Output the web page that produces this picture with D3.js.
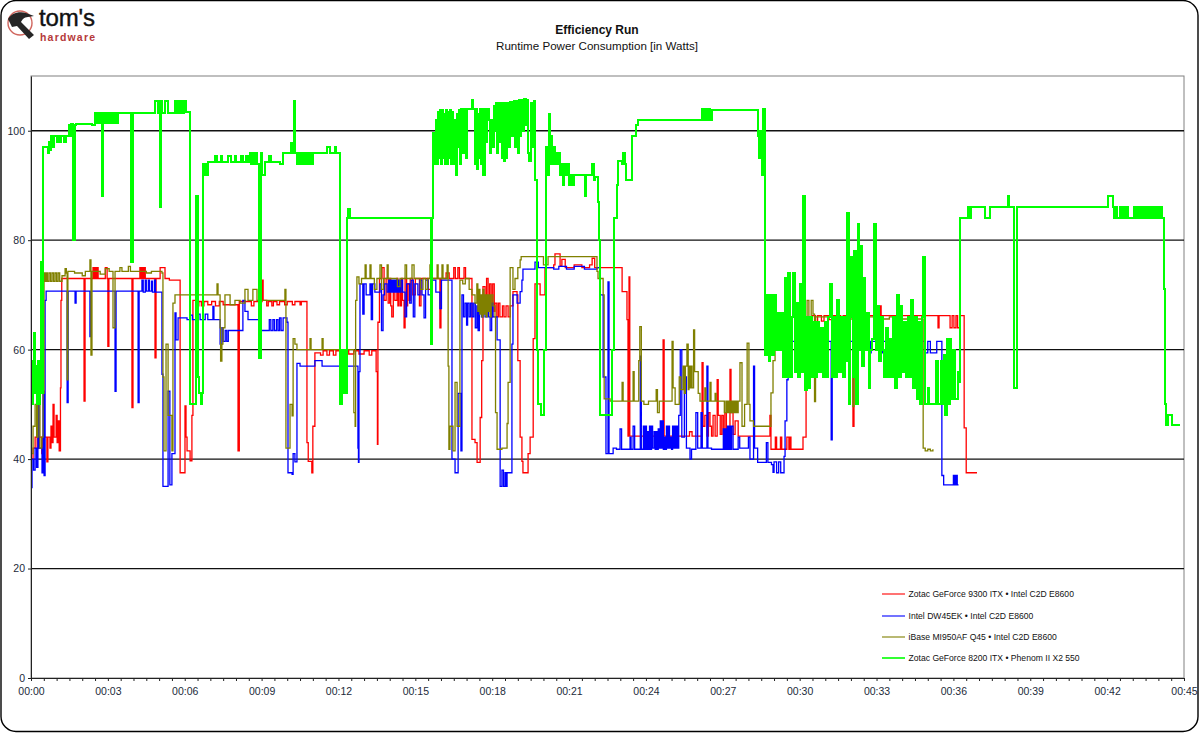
<!DOCTYPE html>
<html>
<head>
<meta charset="utf-8">
<script src="https://cdn.jsdelivr.net/npm/d3@7"></script>
<style>
  html, body { margin: 0; padding: 0; background: #fff; }
  svg { display: block; font-family: "Liberation Sans", Arial, sans-serif; }
  .axis text { font-size: 10.5px; fill: #1c2a3a; }
  .axis path, .axis line { stroke: #222; }
</style>
</head>
<body>
<div id="plot"></div>
<script>
// Chart text
const chartTitle = "Efficiency Run";
const chartSubtitle = "Runtime Power Consumption [in Watts]";
const seriesNames = [
  "Zotac GeForce 9300 ITX • Intel C2D E8600",
  "Intel DW45EK • Intel C2D E8600",
  "iBase MI950AF Q45 • Intel C2D E8600",
  "Zotac GeForce 8200 ITX • Phenom II X2 550"
];
const seriesColors = ["#ff0000", "#0000ff", "#808000", "#00ff00"];

// Ticks
const yTicks = [0, 20, 40, 60, 80, 100];
const xLabelMinutes = [0, 3, 6, 9, 12, 15, 18, 21, 24, 27, 30, 33, 36, 39, 42, 45];
const xTickMinutes = d3.range(0, 45.5, 0.5);

// Readings: [minutes, watts]
const zotac9300 = [
  [0,40],[0.08,42],[0.16,44],[0.24,42],[0.32,44],[0.42,41],[0.47,44],[0.62,39.5],[0.66,44],[0.74,42],[0.78,46],[0.82,43],[0.86,50],[0.9,44],[0.98,48],[1.02,43],[1.06,47],[1.1,41.5],[1.15,53],[1.17,69],[1.2,73],[2.07,50.6],[2.11,73],[2.42,75],[2.46,73],[2.5,75],[2.54,73],[2.58,75],[2.62,73],[2.9,75],[2.97,73],[3.0,60.6],[3.04,73],[3.94,49.4],[3.98,73],[4.25,75],[4.3,73],[4.34,75],[4.38,73],[4.42,75],[4.46,73],[4.84,58.5],[4.88,73],[5.04,75],[5.23,73],[5.4,72.7],[5.82,37.5],[6.01,49.7],[6.05,44],[6.09,41.5],[6.21,39.7],[6.28,48],[6.32,69],[6.45,68],[6.55,68.8],[6.65,68],[6.75,68.8],[6.9,68.2],[7.05,68.8],[7.2,68],[7.35,68.8],[7.5,68.2],[8.08,41.5],[8.13,68.8],[8.6,68],[8.7,68.8],[9.02,72.7],[9.06,69],[9.2,68],[9.26,68.8],[9.4,68],[9.46,68.8],[9.6,68.2],[9.7,68.8],[9.9,68.2],[10,68.8],[10.2,68.2],[10.3,68.8],[10.5,68.2],[10.55,68.8],[10.77,43],[10.82,39.6],[10.96,37.5],[11,46],[11.08,59.4],[11.3,59],[11.4,59.8],[11.55,59],[11.65,59.8],[11.8,59],[11.9,59.8],[12.1,59.2],[12.2,59.8],[12.4,59.2],[12.6,59.8],[12.8,59.2],[13,59.8],[13.2,59],[13.3,59.8],[13.47,56],[13.52,42.7],[13.54,65],[13.6,73],[13.7,75],[13.78,69],[13.86,73],[13.94,68.5],[14.0,73],[14.04,68],[14.08,66],[14.14,72],[14.2,69],[14.28,73],[14.32,68],[14.36,72],[14.42,68],[14.46,73],[14.5,69],[14.56,64],[14.6,73],[14.66,68],[14.7,72],[14.76,69],[14.8,73],[14.9,70],[15,73],[15.16,68],[15.22,73],[15.5,71],[15.6,73],[15.96,64],[16,73],[16.2,74],[16.32,73],[16.5,75],[16.56,73],[16.66,75],[16.72,73],[16.9,75],[16.96,73],[17.21,43.6],[17.33,43],[17.41,39.4],[17.53,47.6],[17.59,58],[17.64,71.5],[17.72,68],[17.78,73],[17.84,67],[17.9,72],[17.96,66],[18.02,72],[18.08,67],[18.11,68.5],[18.18,66],[18.24,68.5],[18.3,66],[18.4,68],[18.46,66],[18.54,68],[18.62,66],[18.7,68],[18.81,70.6],[18.97,70],[19,58],[19.09,44],[19.16,39.6],[19.2,37.5],[19.4,41],[19.48,44],[19.56,44],[19.6,62],[19.67,72],[19.87,70],[20.06,75],[20.4,75.5],[20.45,77.5],[20.65,75.3],[20.72,76.5],[20.85,75],[21.2,75.5],[21.5,75],[21.8,75.5],[21.9,76.7],[22.0,75],[22.99,75],[23.07,70.6],[23.26,65.5],[23.3,44.2],[23.34,73.3],[23.37,44.2],[24.67,61.8],[24.71,44.2],[25.7,45],[25.8,44.2],[26.11,44.2],[26.19,57.6],[26.23,46],[26.3,48],[26.38,44.2],[26.44,48.5],[26.5,46],[26.56,44.2],[26.62,48],[26.7,44.2],[26.78,54.5],[26.82,48],[26.9,44.5],[26.96,48],[27.02,44.5],[27.08,48.5],[27.14,45],[27.28,56.4],[27.32,48.5],[27.4,44.5],[27.48,47],[27.6,44.2],[28.77,44.2],[28.84,48],[28.88,41.8],[28.96,41.8],[29.05,44],[29.1,41.8],[29.25,44],[29.3,41.8],[29.5,44],[29.58,41.8],[29.63,44],[29.66,41.8],[30.13,44],[30.25,52.7],[30.29,66],[30.5,66.2],[30.62,65],[30.7,66.2],[30.85,65.2],[30.95,66.2],[31.15,65.5],[31.3,66.2],[31.6,65.5],[31.7,66.2],[32.08,46],[32.12,66.2],[33.14,68],[33.18,66.2],[34.8,66.2],[35.4,64],[35.44,66.2],[35.87,64],[35.95,66.2],[36.02,64],[36.1,66.2],[36.16,64],[36.24,66.2],[36.42,45.7],[36.5,37.5],[36.92,37.5]
];

const dw45ek = [
  [0,34.8],[0.04,40],[0.1,38],[0.16,42],[0.22,38.5],[0.27,51.5],[0.32,42],[0.43,37.5],[0.47,52.4],[0.51,37],[0.55,69],[0.59,70.7],[1.41,50.3],[1.45,70.7],[1.72,68.5],[1.76,70.7],[2.3,62.4],[2.34,70.7],[3.28,52.4],[3.32,70.7],[4.18,50.3],[4.22,70.7],[4.33,72.7],[4.38,70.5],[4.46,72.7],[4.5,70.7],[4.58,72.7],[4.62,70.7],[4.7,72.5],[4.74,70.5],[4.82,72.7],[4.86,70.5],[5.11,55.5],[5.15,35],[5.35,52.4],[5.42,35.3],[5.5,41],[5.62,66.7],[5.66,61.8],[5.74,65.8],[6.09,65.5],[6.2,66.3],[6.3,65.5],[6.5,66.5],[6.6,65.5],[6.8,66.5],[6.9,65.5],[7.1,67.9],[7.14,65.5],[7.38,61],[7.45,64],[7.5,61.5],[7.58,63.5],[7.64,61.5],[7.7,63.5],[8.27,69],[8.35,67],[8.47,65.5],[8.94,63.5],[9.2,63.5],[9.3,65.5],[9.36,63.5],[9.44,65.5],[9.5,63.5],[9.58,65.5],[9.64,63.5],[9.7,65.8],[9.76,63.5],[9.84,65.8],[9.99,65],[10.03,37.5],[10.19,37.2],[10.23,41],[10.3,39.5],[10.38,57.5],[10.5,57],[11.08,58],[11.36,57],[12.72,57],[12.76,42],[12.78,39.4],[12.8,56],[12.84,72],[12.95,66.5],[13,72],[13.08,70],[13.23,72],[13.28,65.5],[13.33,72],[13.42,70.5],[13.62,72],[13.68,63.5],[13.74,70],[13.8,72],[13.9,70.5],[13.96,72.7],[14,70.5],[14.04,72.7],[14.08,70.5],[14.12,72.7],[14.16,70.5],[14.2,72.7],[14.24,70.5],[14.28,72.7],[14.32,70.5],[14.36,72.7],[14.4,70.5],[14.44,72.7],[14.5,70.5],[14.6,66],[14.66,72],[14.78,68.5],[14.84,72.7],[14.92,66],[14.98,72],[15.1,70],[15.18,72.7],[15.26,70],[15.34,65.8],[15.4,72.7],[15.5,70],[15.6,72.7],[15.8,70.5],[15.96,67.5],[16.02,72.7],[16.35,72.7],[16.43,40],[16.55,37.5],[16.64,37.5],[16.67,52],[16.78,41.5],[16.82,70],[16.88,66],[16.94,68.5],[17,64.5],[17.04,68.5],[17.1,66],[17.16,68.5],[17.22,66],[17.28,68.5],[17.34,64],[17.4,68],[17.45,63.5],[17.5,68.5],[17.58,66],[17.64,68.5],[17.72,66],[17.8,68.5],[17.86,66],[17.92,63.5],[17.98,68.5],[18.03,66],[18.19,61.8],[18.31,35],[18.38,38],[18.44,35],[18.5,37.5],[18.54,35],[18.58,37.5],[18.77,61],[18.81,70],[18.97,68.5],[19.09,70.6],[19.16,72.7],[19.2,74.7],[19.67,76],[19.8,75],[20.4,74.7],[20.6,75.2],[20.9,74.7],[21.2,75.2],[21.6,74.7],[22.09,75],[22.21,70],[22.33,55],[22.44,41],[22.52,72.4],[22.56,41],[22.72,42],[22.85,41.8],[22.99,45.5],[23.05,41.8],[23.3,41.8],[23.38,44],[23.42,41.8],[23.5,46],[23.56,41.8],[23.7,41.8],[23.78,58.8],[23.82,41.8],[23.9,46],[23.94,41.8],[23.98,46],[24.02,41.8],[24.06,45],[24.1,41.8],[24.14,46],[24.18,41.8],[24.22,46],[24.26,42],[24.32,45],[24.36,41.8],[24.4,45],[24.44,41.8],[24.48,45.5],[24.52,42],[24.56,47],[24.6,42],[24.64,47],[24.68,41.8],[24.72,44],[24.76,41.8],[24.8,46],[24.84,42],[24.88,46],[24.92,42],[24.96,44],[25,41.8],[25.04,46],[25.08,42],[25.12,46],[25.16,42],[25.2,46],[25.24,42],[25.28,48],[25.34,60],[25.4,44],[25.5,55],[25.58,42],[25.72,40],[25.78,41.8],[25.95,48.5],[26.02,42],[26.15,48.5],[26.2,42],[26.38,57],[26.42,42],[26.56,41.8],[26.8,41.8],[27,41.8],[27.02,45.5],[27.06,41.8],[27.1,45.5],[27.14,41.8],[27.18,46],[27.22,41.8],[27.26,46],[27.3,41.8],[27.34,46],[27.4,41.8],[27.5,41.8],[27.6,44],[27.66,42],[27.8,42],[28.0,44],[28.06,40],[28.2,57],[28.24,42],[28.36,39.4],[28.56,39.4],[28.7,43],[28.76,39.4],[28.9,39],[28.96,37.6],[29,39.5],[29.1,37.5],[29.18,39.5],[29.26,37.5],[29.35,37.5],[29.39,40.5],[29.43,47],[29.5,54.5],[29.55,63.6],[29.7,61.5],[31.19,61.5],[31.23,43.5],[31.27,61.5],[32.7,61.5],[32.75,59.4],[32.79,61.5],[33.15,61.5],[33.2,59.4],[33.24,61.5],[33.45,61.5],[33.5,59.4],[33.55,61.5],[34.82,61.5],[34.9,59.4],[35,61.5],[35.1,59.4],[35.3,59.4],[35.35,61.5],[35.45,61.5],[35.55,37],[35.62,35.3],[35.95,35.3],[36,37],[36.05,35.3],[36.1,37],[36.15,35.3],[36.2,35.3]
];

const ibaseQ45 = [
  [0.04,41],[0.08,46],[0.16,50],[0.22,44],[0.27,56.4],[0.35,42],[0.42,44],[0.47,52],[0.51,74],[0.56,72.5],[0.6,74],[0.64,72.5],[0.7,74],[0.76,72.5],[0.82,74],[0.88,72.5],[0.94,74],[1,72.5],[1.06,74],[1.12,72.5],[1.21,73.5],[1.33,74.8],[1.38,74],[1.41,54.5],[1.44,74.3],[1.7,74],[2.0,73.5],[2.12,74.3],[2.3,76.4],[2.34,59],[2.38,74.3],[2.7,73.8],[2.9,74.8],[3.05,74.3],[3.2,64],[3.28,74.3],[3.47,75],[3.55,74.3],[3.8,75.2],[3.88,74.3],[4.5,74],[4.7,74.3],[5.11,74],[5.15,55],[5.19,41.5],[5.27,61],[5.35,48],[5.5,41.5],[5.54,68.5],[5.62,70],[7.26,72],[7.3,70],[7.38,64],[7.4,57.9],[7.45,61],[7.49,64],[7.57,70],[7.77,68.2],[7.96,69],[8.16,68.5],[8.35,71],[8.47,69],[8.66,71],[8.82,69],[9.91,71],[9.95,42],[10.11,50],[10.19,47.9],[10.23,62],[10.3,61],[10.38,60],[10.89,62],[10.93,60],[11.36,62],[11.4,60],[12.57,60],[12.6,48.5],[12.65,46],[12.67,69],[12.72,73.3],[12.8,72],[12.9,73],[13.04,75.5],[13.08,73],[13.23,75.5],[13.27,73],[13.4,71],[13.5,73],[13.62,75.5],[13.68,71],[13.76,73],[13.9,75.5],[13.94,73],[14.2,73],[14.3,71.5],[14.4,73],[14.6,75.5],[14.66,73],[14.87,75.5],[14.95,73],[15.2,71],[15.3,73],[15.4,71],[15.48,73],[15.57,75.5],[15.61,73],[15.85,75.5],[15.89,73],[16.04,75.5],[16.08,73],[16.24,75.5],[16.28,57],[16.31,41.8],[16.35,46],[16.47,41.5],[16.55,54],[16.63,46],[16.74,72.7],[16.85,72],[16.95,73],[17.1,71],[17.21,70],[17.33,68.5],[17.4,72],[17.44,67],[17.48,71],[17.52,66.5],[17.56,70],[17.6,66],[17.64,71],[17.68,66.5],[17.72,70],[17.76,66],[17.8,70],[17.84,67],[17.88,70],[17.92,66],[17.96,70],[18.03,68],[18.11,66],[18.13,48.5],[18.19,41.8],[18.38,42],[18.58,46.5],[18.62,54],[18.7,75],[18.81,71],[18.89,73],[19,75],[19.09,76.4],[19.13,77],[20,75.5],[20.18,77],[22.09,74.3],[22.13,73],[22.33,70],[22.37,51],[22.6,50.6],[23,50.6],[23.07,54],[23.11,50.6],[23.45,50.6],[23.5,56],[23.54,50.6],[23.72,58],[23.76,64.2],[23.82,50.6],[23.92,50],[24.1,50.6],[24.4,52.7],[24.45,48.5],[24.52,50.6],[24.7,50.6],[24.94,50.6],[25.02,61.5],[25.06,53],[25.14,50],[25.3,55],[25.36,52.7],[25.45,57],[25.5,52],[25.54,57],[25.6,61],[25.65,52.7],[25.68,57],[25.72,53],[25.76,57],[25.8,53],[25.86,63.6],[25.9,56],[26.04,52],[26.11,50.6],[26.3,53],[26.34,50.6],[26.5,54],[26.54,50.6],[26.7,52],[26.74,50.6],[27.01,50.6],[27.06,48.5],[27.12,50.6],[27.16,48.5],[27.2,50.6],[27.24,48.5],[27.28,50.6],[27.32,48.5],[27.36,50.6],[27.4,48.5],[27.44,50.6],[27.48,48.5],[27.52,50.6],[27.56,48.5],[27.6,50.6],[27.67,57.6],[27.75,46],[27.85,50],[27.95,61.2],[28.02,50],[28.06,47],[28.2,46],[28.84,46],[28.88,52.1],[28.96,58],[29.04,66],[29.2,66],[29.45,68],[29.52,66],[30.29,69],[30.36,66],[30.45,69],[30.52,66.5],[30.58,50.5],[30.62,66],[31.5,65.6],[32.08,49.6],[32.12,66],[33,65.6],[33.5,66],[34,65.6],[34.82,42],[34.9,41.5],[35,41.8],[35.1,41.5],[35.2,41.8]
];

const zotac8200 = [
  [0.04,50],[0.08,58],[0.12,63],[0.16,52],[0.2,57],[0.23,50],[0.27,58],[0.31,50],[0.35,55],[0.39,76],[0.43,52],[0.47,97],[0.66,96],[0.7,98],[0.74,96.5],[0.78,99],[0.82,97],[0.9,99],[1,98],[1.05,99],[1.13,98],[1.17,99],[1.3,98],[1.36,99],[1.5,101],[1.54,99],[1.58,101.3],[1.62,80],[1.7,101],[1.76,101.3],[2.38,101],[2.5,103.3],[2.54,101.5],[2.6,103.3],[2.66,101.5],[2.72,103.3],[2.77,88],[2.8,103.3],[2.86,101.5],[2.92,103.3],[2.98,101.5],[3.02,103.3],[3.08,101.5],[3.14,103.3],[3.2,101.5],[3.26,103.3],[3.32,101.5],[3.38,103.3],[3.92,76],[4,103.3],[4.84,105.5],[4.94,103.3],[5,105.5],[5.04,86],[5.08,105.5],[5.12,103.3],[5.23,105.5],[5.35,103.3],[5.62,105.5],[5.7,103.3],[5.74,105.5],[5.8,103.3],[5.84,105.5],[5.92,103.3],[5.96,105.5],[6.04,103.5],[6.22,50],[6.44,88],[6.5,55],[6.56,52],[6.62,50],[6.68,52],[6.72,94],[6.76,92],[6.8,94],[6.86,92],[6.9,94.3],[7.2,95.3],[7.24,94.3],[7.4,95.3],[7.44,94.3],[7.7,95.3],[7.8,94.3],[7.96,95.3],[8,94.3],[8.2,95.3],[8.26,94.3],[8.4,95.3],[8.46,94.3],[8.55,96],[8.6,94],[8.66,96],[8.7,94],[8.76,96],[8.82,94],[8.9,58.5],[8.96,96],[9.02,92],[9.13,94.3],[9.3,95.3],[9.36,94.3],[9.72,94],[9.84,96],[10.15,97.8],[10.2,96],[10.27,105.5],[10.32,96],[10.38,94],[10.42,96],[10.48,94],[10.54,96],[10.6,94],[10.66,96],[10.72,94],[10.78,96],[10.84,94],[10.9,96],[10.96,94],[11.02,96],[11.12,96],[11.55,97],[11.66,96],[11.87,97],[11.92,96],[12.06,50],[12.14,60],[12.2,52],[12.26,60],[12.3,52],[12.33,84],[12.38,85.7],[12.44,84],[15.6,61],[15.66,84],[15.7,99.6],[15.76,94],[15.8,102],[15.84,94],
  [15.88,103.5],[15.92,95],[15.96,103.8],[16,94],[16.04,103.8],[16.08,95],[16.12,103],[16.16,94],[16.2,103.8],[16.24,94],[16.28,103.5],[16.32,95],[16.36,103.8],[16.4,94],[16.44,103.5],[16.48,94],[16.52,102],[16.58,92],[16.62,103],[16.66,97],[16.7,103.8],[16.74,94],[16.78,104],[16.82,96],[16.9,104],[16.98,95],[17.02,104],[17.12,104],[17.2,105.6],[17.24,104],[17.3,104],[17.34,94],[17.38,104],[17.42,93],[17.46,103],[17.5,95],[17.54,104],[17.58,94],[17.62,104],[17.66,92],[17.7,104],[17.76,98],[17.8,104],[17.86,102],[17.9,96],[17.94,100],[17.98,102],[18.02,97],[18.06,104.5],[18.1,100],[18.14,105],[18.2,96],[18.24,105],[18.28,98],[18.34,105],[18.38,95],[18.42,105],[18.46,94.5],[18.5,105],[18.54,95],[18.58,105],[18.62,97],[18.7,105.2],[18.76,99],[18.84,105.5],[18.9,97],[18.94,105.5],[19,96],[19.04,105.7],[19.08,99],[19.14,105.7],[19.2,100],[19.24,105.8],[19.32,101],[19.36,105.7],[19.4,96],[19.44,94.4],[19.5,105],[19.56,97],[19.62,105.5],[19.67,91],[19.75,60],[19.78,50],[19.9,48],[20.02,60],[20.06,60],[20.1,97],[20.16,92],[20.2,103],[20.24,94],[20.3,99],[20.34,94],[20.4,97],[20.44,94],[20.5,96],[20.54,94],[20.6,96],[20.66,92],[20.7,94],[20.76,90],[20.82,94],[20.88,92],[20.94,94],[21,90],[21.06,92],[21.12,90],[21.18,92],[21.55,92],[21.62,88],[21.68,92],[21.82,92],[21.9,94],[21.96,91],[22.02,91.5],[22.13,87],[22.17,80],[22.21,48],[22.6,48],[22.68,60],[22.75,84],[22.87,90],[22.91,94.4],[23.07,94],[23.1,96],[23.18,94],[23.24,91],[23.38,91],[23.46,99],[23.61,101],[23.69,102],[26.11,102],[26.19,104],[26.23,102],[26.3,104],[26.36,102],[26.42,104],[26.5,102],[26.56,103.8],[28.34,103.8],[28.37,99],[28.42,95],[28.46,100],[28.53,92],[28.58,104],[28.65,59],[28.72,70],[28.79,58],[28.86,70],[28.93,59],[29,70],[29.07,60],[29.14,66.7],[29.21,60],[29.28,66.7],[29.35,55],[29.42,73],[29.49,55],[29.55,74],[29.62,55],[29.69,66],[29.74,74],[29.8,56],[29.87,68.5],[29.94,55],[30,72],[30.07,56],[30.13,88],[30.2,52.7],[30.27,66],[30.34,53],[30.41,66],[30.48,55],[30.55,65],[30.62,55],[30.69,65],[30.76,56],[30.83,64],[30.9,55],[30.97,65],[31.04,55],[31.11,66],[31.19,72],[31.26,55],[31.33,66],[31.4,55],[31.47,69],[31.54,56],[31.61,66],[31.68,55],[31.75,66],[31.81,58],[31.85,85],[31.92,50],[31.96,66],[32,77],[32.07,55],[32.12,78],[32.19,50],[32.28,83],[32.33,60],[32.36,79],[32.42,57],[32.5,73],[32.56,60],[32.62,66.7],[32.69,53],[32.76,60],[32.82,62],[32.9,83],[32.96,60],[33.03,68],[33.1,58],[33.17,66],[33.24,60],[33.31,55],[33.38,64],[33.45,55],[33.52,62],[33.59,55],[33.66,66],[33.73,53],[33.8,70],[33.87,55],[33.94,68],[34.01,56],[34.08,65],[34.15,55],[34.22,66],[34.29,55],[34.36,69],[34.43,53],[34.5,66],[34.57,51],[34.64,65],[34.71,50],[34.78,66],[34.81,77],[34.88,50],[35.0,53],[35.04,50],[35.34,58],[35.4,50],[35.5,58],[35.56,50],[35.62,59],[35.68,48],[35.74,62],[35.8,50],[35.86,62],[35.92,51],[36,60],[36.08,51],[36.16,56],[36.22,54],[36.26,84],[36.58,86],[36.62,84],[36.68,86],[37.24,84],[37.43,86],[38.13,88],[38.18,86],[38.38,53],[38.5,86],[42.04,88],[42.22,86],[42.28,84],[42.34,86],[42.4,84],[42.5,86],[42.56,84],[42.62,86],[42.68,84],[42.74,86],[42.8,84],[43.0,84],[43.06,86],[43.14,84],[43.2,86],[43.3,84],[43.36,86],[43.42,84],[43.5,86],[43.56,84],[43.62,86],[43.68,84],[43.74,86],[43.8,84],[43.86,86],[43.92,84],[43.98,86],[44.04,84],[44.1,86],[44.15,84],[44.2,71],[44.26,50],[44.3,46.3],[44.36,48],[44.52,46.2],[44.85,46.2]
];

const allSeries = [zotac9300, dw45ek, ibaseQ45, zotac8200];
const seriesWidths = [1.3, 1.3, 1.3, 2];

// Chart size
const width = 1200;
const height = 733;
const margin = { top: 76, right: 16, bottom: 55, left: 31 };

const svg = d3.select("#plot").append("svg")
  .attr("width", width)
  .attr("height", height);

// Rounded outer frame
svg.append("rect")
  .attr("x", 1).attr("y", 0.5)
  .attr("width", 1197).attr("height", 731)
  .attr("rx", 15).attr("ry", 15)
  .attr("fill", "#fff")
  .attr("stroke", "#000")
  .attr("stroke-width", 1.4);

// Scales
const x = d3.scaleLinear().domain([0, 45]).range([margin.left, width - margin.right]);
const y = d3.scaleLinear().domain([0, 110]).range([height - margin.bottom, margin.top]);

// Plot box
svg.append("rect")
  .attr("x", x(0)).attr("y", y(110))
  .attr("width", x(45) - x(0)).attr("height", y(0) - y(110))
  .attr("fill", "#fff")
  .attr("stroke", "#808080");

// Grid
svg.append("g").selectAll("line")
  .data(yTicks.filter(d => d > 0))
  .enter().append("line")
  .attr("x1", x(0)).attr("x2", x(45))
  .attr("y1", d => y(d)).attr("y2", d => y(d))
  .attr("stroke", "#111")
  .attr("stroke-width", 1.3);

// Lines
const line = d3.line()
  .x(d => x(d[0]))
  .y(d => y(d[1]))
  .curve(d3.curveStepAfter);

svg.append("g").selectAll("path")
  .data(allSeries)
  .enter().append("path")
  .attr("d", line)
  .attr("fill", "none")
  .attr("stroke", (d, i) => seriesColors[i])
  .attr("stroke-width", (d, i) => seriesWidths[i])
  .attr("shape-rendering", (d, i) => i === 3 ? "crispEdges" : "auto");

// Axes
const pad2 = d => String(d).padStart(2, "0");

svg.append("g")
  .attr("class", "axis")
  .attr("transform", `translate(0,${y(0)})`)
  .call(d3.axisBottom(x).tickValues(xTickMinutes).tickSize(3).tickSizeOuter(0).tickPadding(7)
    .tickFormat(d => xLabelMinutes.includes(d) ? `00:${pad2(d)}` : ""));

svg.append("g")
  .attr("class", "axis")
  .attr("transform", `translate(${x(0)},0)`)
  .call(d3.axisLeft(y).tickValues(yTicks).tickSize(3).tickSizeOuter(0).tickPadding(3));

// Titles
svg.append("text")
  .attr("x", 597).attr("y", 34)
  .attr("text-anchor", "middle")
  .attr("font-size", 12).attr("font-weight", "bold").attr("fill", "#111")
  .text(chartTitle);

svg.append("text")
  .attr("x", 597).attr("y", 50)
  .attr("text-anchor", "middle")
  .attr("font-size", 11.6).attr("fill", "#111")
  .text(chartSubtitle);

// Legend
const legendRows = [594, 616, 637, 658];
const legend = svg.append("g").selectAll("g")
  .data(seriesNames)
  .enter().append("g")
  .attr("transform", (d, i) => `translate(882,${legendRows[i]})`);

legend.append("line")
  .attr("x1", 0).attr("x2", 23)
  .attr("stroke", (d, i) => seriesColors[i])
  .attr("stroke-width", (d, i) => i === 3 ? 1.6 : 1.1);

legend.append("text")
  .attr("x", 26.5).attr("y", 3)
  .attr("font-size", 8.6).attr("fill", "#111")
  .text(d => d);

// Logo
const logo = svg.append("g");
logo.append("circle")
  .attr("cx", 20).attr("cy", 23).attr("r", 12)
  .attr("fill", "none").attr("stroke", "#d0665e").attr("stroke-width", 1.4);
logo.append("path")
  .attr("d", "M8,19 C11,14 18,11 26,13 L34,16 L28,17 C24,17 22,20 21,22 L34,35 L29,39 L17,26 L12,27 Z")
  .attr("fill", "#262626");
logo.append("text")
  .attr("x", 39).attr("y", 26)
  .attr("font-size", 24).attr("fill", "#111").attr("textLength", 56)
  .attr("stroke", "#111").attr("stroke-width", 0.4)
  .text("tom's");
logo.append("text")
  .attr("x", 40).attr("y", 40.5)
  .attr("font-weight", "bold")
  .attr("font-size", 10.5).attr("fill", "#b5393a").attr("textLength", 55)
  .text("hardware");
</script>
</body>
</html>
